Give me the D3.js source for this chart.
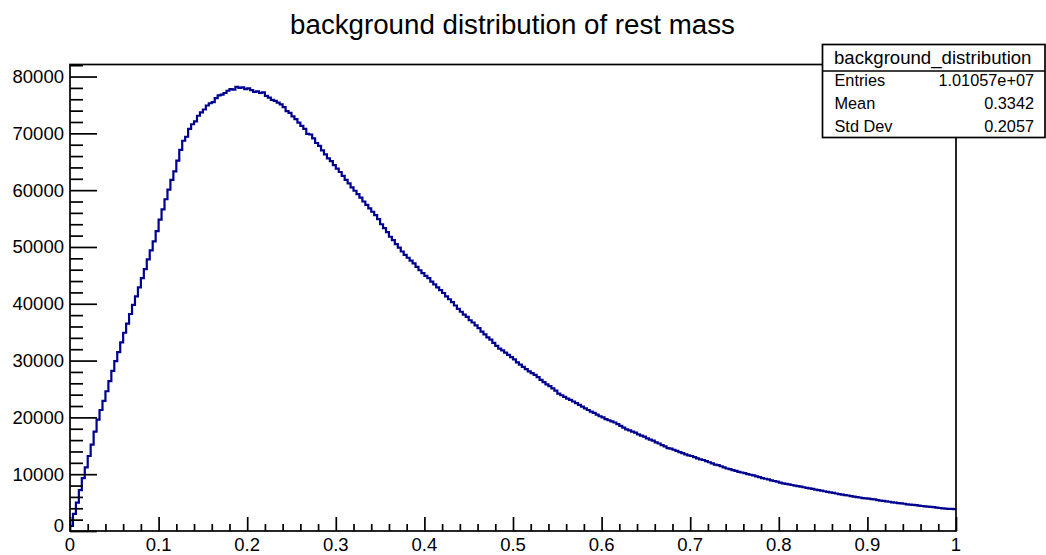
<!DOCTYPE html>
<html>
<head>
<meta charset="utf-8">
<script src="https://cdn.jsdelivr.net/npm/d3@7"></script>
<style>
  html, body { margin: 0; padding: 0; background: #fff; }
  svg { display: block; font-family: "Liberation Sans", Arial, sans-serif; }
</style>
</head>
<body>
<svg id="chart" width="1046" height="555"></svg>
<script>
// ---- data ----
const chartTitle = "background distribution of rest mass";
const histName = "background_distribution";
const statLabels = ["Entries", "Mean", "Std Dev"];
const statValues = ["1.01057e+07", "0.3342", "0.2057"];
const xMin = 0, xMax = 1, nBins = 300;
const xTickLabels = ["0", "0.1", "0.2", "0.3", "0.4", "0.5", "0.6", "0.7", "0.8", "0.9", "1"];
const yTickLabels = ["0", "10000", "20000", "30000", "40000", "50000", "60000", "70000", "80000"];
const yMax = 82120;
// bin contents (300 bins over [0,1])
const binCounts = [
  900, 3000, 5000, 7200, 9300, 11200, 13200, 15200, 17500, 19600,
  21300, 22900, 24600, 26400, 28200, 29900, 31500, 33200, 34900, 36500,
  38200, 39800, 41300, 42900, 44500, 46100, 47800, 49400, 51000, 52800,
  54800, 56600, 58400, 60100, 61800, 63300, 65200, 67100, 68700, 69400,
  70800, 71600, 72100, 73100, 73700, 74200, 74900, 75300, 75500, 76200,
  76700, 76800, 77100, 77500, 77800, 77700, 78200, 78000, 78100, 77800,
  77900, 77600, 77300, 77400, 77100, 77200, 76600, 76300, 75900, 75700,
  75400, 75100, 74600, 73900, 73600, 73000, 72500, 71900, 71300, 70800,
  69900, 69800, 69100, 68300, 67800, 67000, 66300, 65600, 65100, 64400,
  63800, 63200, 62500, 61800, 61200, 60500, 59900, 59300, 58700, 58000,
  57400, 56800, 56200, 55600, 54900, 54000, 53300, 52600, 51800, 51200,
  50500, 49900, 49200, 48600, 48100, 47600, 47100, 46500, 45900, 45400,
  44900, 44500, 43900, 43400, 42900, 42400, 41900, 41300, 40800, 40300,
  39700, 39100, 38600, 38100, 37700, 37100, 36700, 36200, 35700, 35100,
  34600, 34100, 33700, 33100, 32600, 32100, 31800, 31400, 31000, 30600,
  30200, 29700, 29300, 28900, 28500, 28100, 27800, 27500, 27100, 26600,
  26200, 25800, 25500, 25100, 24700, 24200, 23900, 23600, 23300, 23100,
  22800, 22500, 22200, 21900, 21600, 21300, 21000, 20800, 20500, 20200,
  20000, 19700, 19500, 19300, 19100, 18800, 18500, 18200, 17900, 17700,
  17500, 17300, 17000, 16800, 16600, 16300, 16100, 15900, 15600, 15400,
  15100, 14900, 14600, 14500, 14300, 14100, 13900, 13700, 13500, 13300,
  13200, 13000, 12800, 12600, 12500, 12300, 12100, 11900, 11700, 11600,
  11400, 11200, 11000, 10900, 10700, 10600, 10400, 10300, 10200, 10000,
  9900, 9800, 9600, 9500, 9300, 9200, 9100, 8900, 8800, 8700,
  8500, 8400, 8300, 8200, 8100, 8000, 7900, 7800, 7700, 7600,
  7500, 7400, 7300, 7200, 7100, 7000, 6900, 6800, 6700, 6600,
  6500, 6400, 6300, 6250, 6150, 6050, 5950, 5900, 5800, 5750,
  5700, 5600, 5550, 5450, 5350, 5300, 5200, 5150, 5050, 5000,
  4900, 4850, 4800, 4700, 4650, 4600, 4550, 4450, 4400, 4350,
  4300, 4250, 4200, 4100, 4050, 4000, 3950, 3900, 3880, 3850
];

// ---- layout ----
const svg = d3.select("#chart");
const frame = { left: 70, right: 956, top: 64.5, bottom: 531 };
const x = d3.scaleLinear().domain([xMin, xMax]).range([frame.left, frame.right]);
const y = d3.scaleLinear().domain([0, yMax]).range([frame.bottom, frame.top]);

svg.append("rect").attr("width", 1046).attr("height", 555).attr("fill", "#fff");

// histogram outline
const binW = (xMax - xMin) / nBins;
const pts = binCounts.map((v, i) => [xMin + i * binW, v]);
pts.push([xMax, binCounts[binCounts.length - 1]]);
const line = d3.line().x(d => x(d[0])).y(d => y(d[1])).curve(d3.curveStepAfter);
svg.append("path")
  .attr("d", line(pts))
  .attr("fill", "none")
  .attr("stroke", "#000090")
  .attr("stroke-width", 2.2);

// frame
svg.append("rect")
  .attr("x", frame.left).attr("y", frame.top)
  .attr("width", frame.right - frame.left).attr("height", frame.bottom - frame.top)
  .attr("fill", "none").attr("stroke", "#000").attr("stroke-width", 1.7);

// y axis ticks (inward)
const yMajor = yTickLabels.map(Number);
const yMinor = d3.range(0, yMax, 2000).filter(v => v % 10000 !== 0);
const yAxisMajor = d3.axisRight(y).tickValues(yMajor).tickSize(27).tickFormat("");
const yAxisMinor = d3.axisRight(y).tickValues(yMinor).tickSize(13).tickFormat("");
[yAxisMajor, yAxisMinor].forEach(ax => {
  const g = svg.append("g").attr("transform", `translate(${frame.left},0)`).call(ax);
  g.select(".domain").remove();
  g.selectAll("line").attr("stroke", "#000").attr("stroke-width", 1.7);
});
svg.append("g").selectAll("text").data(yTickLabels).join("text")
  .attr("x", 64)
  .attr("y", d => +d === 0 ? y(+d) - 5 : y(+d))
  .attr("dy", "0.35em")
  .attr("text-anchor", "end")
  .attr("font-size", 18.5)
  .attr("fill", "#000")
  .text(d => d);

// x axis ticks (inward)
const xMajor = xTickLabels.map(Number);
const xMinor = d3.range(0, 50).map(i => i * 0.02).filter((v, i) => i % 5 !== 0);
const xAxisMajor = d3.axisTop(x).tickValues(xMajor).tickSize(14).tickFormat("");
const xAxisMinor = d3.axisTop(x).tickValues(xMinor).tickSize(7).tickFormat("");
[xAxisMajor, xAxisMinor].forEach(ax => {
  const g = svg.append("g").attr("transform", `translate(0,${frame.bottom})`).call(ax);
  g.select(".domain").remove();
  g.selectAll("line").attr("stroke", "#000").attr("stroke-width", 1.7);
});
svg.append("g").selectAll("text").data(xTickLabels).join("text")
  .attr("x", d => x(+d))
  .attr("y", 551)
  .attr("text-anchor", "middle")
  .attr("font-size", 18.5)
  .attr("fill", "#000")
  .text(d => d);

// title
svg.append("text")
  .attr("x", 512.5).attr("y", 33.5)
  .attr("text-anchor", "middle")
  .attr("font-size", 27.7)
  .attr("fill", "#000")
  .text(chartTitle);

// stats box
const sb = { x: 822.5, y: 44.5, w: 222.5, h: 93, head: 26.5 };
svg.append("rect")
  .attr("x", sb.x).attr("y", sb.y).attr("width", sb.w).attr("height", sb.h)
  .attr("fill", "#fff").attr("stroke", "#000").attr("stroke-width", 1.7);
svg.append("line")
  .attr("x1", sb.x).attr("x2", sb.x + sb.w)
  .attr("y1", sb.y + sb.head).attr("y2", sb.y + sb.head)
  .attr("stroke", "#000").attr("stroke-width", 1.3);
svg.append("text")
  .attr("x", sb.x + sb.w / 2 - 1).attr("y", sb.y + sb.head / 2)
  .attr("dy", "0.35em").attr("text-anchor", "middle")
  .attr("font-size", 18.6).attr("fill", "#000")
  .text(histName);
const rowY = [80, 103.5, 126.5];
svg.append("g").selectAll("text").data(statLabels).join("text")
  .attr("x", sb.x + 12).attr("y", (d, i) => rowY[i])
  .attr("dy", "0.35em").attr("font-size", 16.3).attr("fill", "#000")
  .text(d => d);
svg.append("g").selectAll("text").data(statValues).join("text")
  .attr("x", sb.x + sb.w - 11).attr("y", (d, i) => rowY[i])
  .attr("dy", "0.35em").attr("text-anchor", "end").attr("font-size", 16.3).attr("fill", "#000")
  .text(d => d);
</script>
</body>
</html>
